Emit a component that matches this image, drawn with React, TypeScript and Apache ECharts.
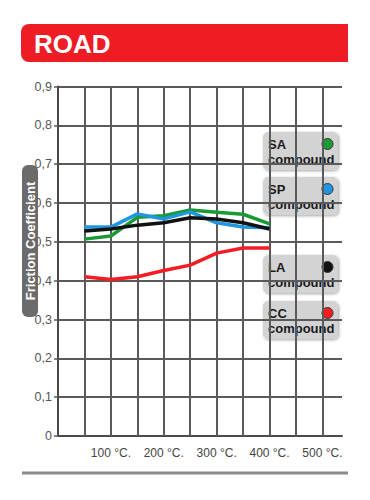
import React, { useEffect, useRef } from "react";
import * as echarts from "echarts";

const temps = [50, 100, 150, 200, 250, 300, 350, 400];
const saValues = [0.507, 0.515, 0.563, 0.567, 0.582, 0.576, 0.571, 0.546];
const spValues = [0.538, 0.538, 0.572, 0.559, 0.577, 0.549, 0.538, 0.536];
const laValues = [0.528, 0.533, 0.543, 0.549, 0.562, 0.559, 0.549, 0.533];
const ccValues = [0.41, 0.403, 0.41, 0.426, 0.44, 0.471, 0.484, 0.484];
const gridTemps = [50, 100, 150, 200, 250, 300, 350, 400, 450, 500];
const legendNames = ["SA", "SP", "LA", "CC"];
const legendColors = ["#1a9a35", "#1e96e0", "#111111", "#f51c24"];

const FONT = "Liberation Sans, Arial, Helvetica, sans-serif";

export default function App() {
  const ref = useRef<HTMLDivElement>(null);
  useEffect(() => {
    if (!ref.current) return;
    const chart = echarts.init(ref.current, null, { renderer: "svg" });
    const pair = (vals: number[]) => temps.map((t, i) => [t, vals[i]]);
    const legendTops = [132, 177, 255, 301];
    const legendGraphics: any[] = [];
    legendNames.forEach((name, i) => {
      const top = legendTops[i];
      legendGraphics.push({
        type: "group",
        x: 263,
        y: top,
        z: 100,
        children: [
          {
            type: "rect",
            shape: { x: 0, y: 0, width: 75, height: 38, r: 5 },
            style: {
              fill: "#d3d3d3",
              shadowBlur: 3,
              shadowColor: "rgba(0,0,0,0.35)",
              shadowOffsetX: 1,
              shadowOffsetY: 1,
            },
          },
          {
            type: "text",
            x: 5,
            y: 5,
            style: {
              text: name + "\ncompound",
              fill: "#1a1a1a",
              fontSize: 13,
              lineHeight: 15,
              fontWeight: "bold",
              fontFamily: FONT,
              verticalAlign: "top",
            },
          },
          {
            type: "circle",
            shape: { cx: 64.5, cy: 12, r: 5.5 },
            style: { fill: legendColors[i], stroke: "#333", lineWidth: 1 },
          },
        ],
      });
    });

    const lineSeries = (vals: number[], color: string, withMark = false): any => {
      const s: any = {
        type: "line",
        data: pair(vals),
        symbol: "none",
        silent: true,
        lineStyle: { color, width: 3.5 },
        z: 3,
      };
      if (withMark) {
        s.markLine = {
          silent: true,
          z: 1,
          symbol: ["none", "none"],
          label: { show: false },
          lineStyle: { type: "solid", color: "#5a5a5a", width: 2 },
          emphasis: { disabled: true },
          data: gridTemps.map((t) => ({ xAxis: t })),
        };
      }
      return s;
    };

    chart.setOption({
      animation: false,
      grid: { left: 58, right: 28, top: 86.5, bottom: 64 },
      xAxis: {
        type: "value",
        min: 0,
        max: 537,
        interval: 50,
        axisLine: { show: true, lineStyle: { color: "#4a4a4a", width: 2 } },
        axisTick: { show: false },
        splitLine: { show: false },
        axisLabel: {
          margin: 11,
          color: "#444",
          fontSize: 12,
          fontFamily: FONT,
          formatter: (v: number) => (v > 0 && v % 100 === 0 ? `${v} °C.` : ""),
        },
      },
      yAxis: {
        type: "value",
        min: 0,
        max: 0.9,
        interval: 0.1,
        axisLine: { show: true, lineStyle: { color: "#4a4a4a", width: 2 } },
        axisTick: { show: true, length: 4, lineStyle: { color: "#5a5a5a", width: 1.5 } },
        splitLine: { show: true, lineStyle: { color: "#5a5a5a", width: 2 } },
        axisLabel: {
          margin: 6,
          color: "#555",
          fontSize: 12.5,
          fontFamily: FONT,
          formatter: (v: number) => (v === 0 ? "0" : v.toFixed(1).replace(".", ",")),
        },
      },
      series: [
        lineSeries(ccValues, legendColors[3], true),
        lineSeries(saValues, legendColors[0]),
        lineSeries(spValues, legendColors[1]),
        lineSeries(laValues, legendColors[2]),
      ],
      graphic: [
        {
          type: "rect",
          shape: { x: 21, y: 24, width: 327, height: 38, r: [8, 0, 0, 8] },
          style: { fill: "#ee1d25" },
          z: 100,
        },
        {
          type: "text",
          x: 34,
          y: 43.5,
          z: 101,
          style: {
            text: "ROAD",
            fill: "#ffffff",
            fontSize: 26,
            fontWeight: "bold",
            fontFamily: FONT,
            verticalAlign: "middle",
          },
        },
        {
          type: "rect",
          shape: { x: 22, y: 165, width: 16, height: 152, r: 6 },
          style: { fill: "#6b6b6b" },
          z: 100,
        },
        {
          type: "text",
          x: 30.5,
          y: 241,
          rotation: Math.PI / 2,
          z: 101,
          style: {
            text: "Friction Coefficient",
            fill: "#ffffff",
            fontSize: 13,
            fontWeight: "bold",
            fontFamily: FONT,
            align: "center",
            verticalAlign: "middle",
          },
        },
        {
          type: "rect",
          shape: { x: 22, y: 471.5, width: 326, height: 3 },
          style: { fill: "#8a8a8a" },
          z: 100,
        },
        ...legendGraphics,
      ],
    });
    return () => chart.dispose();
  }, []);
  return (
    <div
      ref={ref}
      style={{ position: "fixed", left: 0, top: 0, width: 370, height: 500, background: "#fff" }}
    />
  );
}
